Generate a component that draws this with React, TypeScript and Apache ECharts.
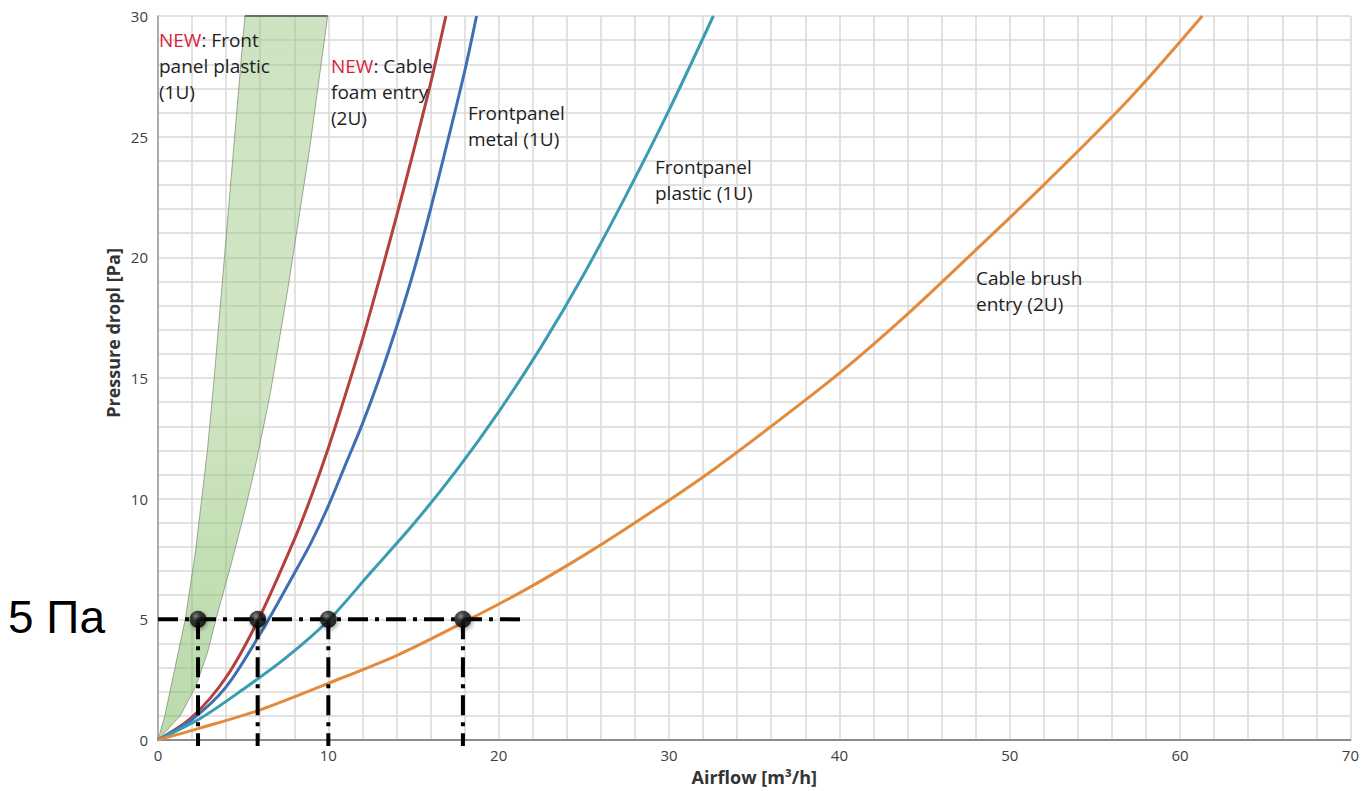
import React, { useEffect, useRef } from 'react';
import * as echarts from 'echarts';

// Curves: [airflow m3/h, pressure drop Pa]
const cableFoamEntry = [[0, 0], [2, 0.95], [4, 2.6], [5.9, 5], [8, 8.3], [9, 10.1], [10, 12.1], [11, 14.3], [12, 16.6], [13, 19.1], [14, 21.7], [15, 24.4], [16, 27.2], [16.9, 30]];
const frontpanelMetal = [[0, 0], [2, 0.85], [4, 2.2], [6, 4.4], [8, 6.9], [9, 8.2], [10, 9.7], [11, 11.4], [12, 13.1], [13, 15.0], [14, 17.1], [15, 19.4], [16, 22.0], [17, 24.8], [18, 27.7], [18.7, 30]];
const frontpanelPlastic = [[0, 0], [2.5, 0.9], [5, 2.1], [7.5, 3.4], [10, 4.95], [12.5, 6.95], [15, 8.95], [17.5, 11.15], [20, 13.6], [22.5, 16.3], [25, 19.3], [27.5, 22.6], [30, 26.1], [32.6, 30]];
const cableBrushEntry = [[0, 0], [2.5, 0.5], [6, 1.25], [10, 2.35], [14, 3.5], [18, 4.9], [21.5, 6.2], [25, 7.65], [28, 9.0], [32, 10.9], [36, 13.0], [40, 15.2], [44, 17.65], [48, 20.3], [52, 23.0], [57, 26.55], [61.3, 30]];

// NEW: Front panel plastic (1U) band: upper (left) and lower (right) boundaries
const bandUpperEdge = [[0, 0], [0.4, 1], [1.0, 3], [1.6, 5], [2.2, 7.8], [2.9, 12], [3.3, 15], [3.9, 20], [4.5, 25], [5.1, 30]];
const bandLowerEdge = [[0, 0], [1.3, 1], [2.2, 2.2], [2.9, 3.6], [3.4, 5], [4.3, 7.3], [5.1, 9.5], [5.7, 11.3], [6.2, 13], [6.6, 14.4], [7.6, 18.6], [8.9, 24.5], [9.96, 30]];

// 5 Pa reference
const refPressure = 5;
const refLineEnd = 21.5;
const refBelowAxis = -0.25;
const dropAirflows = [2.35, 5.85, 10.0, 17.9];

const xTickValues = [0, 10, 20, 30, 40, 50, 60, 70];
const yTickValues = [0, 5, 10, 15, 20, 25, 30];

const annotations = [
  { text: '{r|NEW}: Front\npanel plastic\n(1U)', left: 159, top: 27 },
  { text: '{r|NEW}: Cable\nfoam entry\n(2U)', left: 331, top: 53 },
  { text: 'Frontpanel\nmetal (1U)', left: 468, top: 100 },
  { text: 'Frontpanel\nplastic (1U)', left: 655, top: 154 },
  { text: 'Cable brush\nentry (2U)', left: 976, top: 265 },
];

const FONT = '"Open Sans", "DejaVu Sans", sans-serif';

export default function App() {
  const ref = useRef<HTMLDivElement>(null);

  useEffect(() => {
    document.body.style.margin = '0';
    if (!ref.current) return;
    const chart = echarts.init(ref.current, null, { renderer: 'svg' });

    const bandPolygon = [...bandUpperEdge, ...bandLowerEdge.slice().reverse()];
    const gridColor = '#d9d9d9';
    const dashType: any = [20, 7, 4, 7];

    const lineSeries = (name: string, data: number[][], color: string) => ({
      name,
      type: 'line',
      data,
      smooth: 0.3,
      showSymbol: false,
      symbol: 'none',
      lineStyle: { color, width: 3 },
      clip: true,
      z: 3,
    });

    const option: any = {
      animation: false,
      grid: { left: 158, right: 7, top: 16, bottom: 49 },
      xAxis: {
        type: 'value',
        min: xTickValues[0],
        max: xTickValues[xTickValues.length - 1],
        interval: 10,
        name: 'Airflow [m³/h]',
        nameLocation: 'middle',
        nameGap: 28,
        nameTextStyle: { fontWeight: 'bold', fontSize: 18, color: '#333', fontFamily: FONT },
        axisLine: { show: true, lineStyle: { color: '#8c8c8c', width: 2 } },
        axisTick: { show: false },
        axisLabel: { color: '#404040', fontSize: 15, fontFamily: FONT, margin: 7 },
        splitLine: { show: true, lineStyle: { color: gridColor, width: 1.5 } },
        minorTick: { show: false, splitNumber: 5 },
        minorSplitLine: { show: true, lineStyle: { color: gridColor, width: 1.5 } },
      },
      yAxis: {
        type: 'value',
        min: yTickValues[0],
        max: yTickValues[yTickValues.length - 1],
        interval: 5,
        axisLine: { show: true, lineStyle: { color: '#9a9a9a', width: 1.5 } },
        axisTick: { show: false },
        axisLabel: { color: '#404040', fontSize: 15, fontFamily: FONT, margin: 10 },
        splitLine: { show: true, lineStyle: { color: gridColor, width: 1.5 } },
        minorTick: { show: false, splitNumber: 5 },
        minorSplitLine: { show: true, lineStyle: { color: gridColor, width: 1.5 } },
      },
      series: [
        {
          name: 'NEW: Front panel plastic (1U)',
          type: 'custom',
          data: bandPolygon,
          encode: { x: 0, y: 1 },
          clip: true,
          z: 2,
          renderItem: (params: any, api: any) => {
            if (params.dataIndex !== 0) return null;
            const pts = bandPolygon.map((p) => api.coord(p));
            return {
              type: 'polygon',
              shape: { points: pts },
              style: {
                fill: {
                  type: 'linear', x: 0, y: 0, x2: 0, y2: 1,
                  colorStops: [
                    { offset: 0, color: 'rgba(151,197,125,0.48)' },
                    { offset: 0.5, color: 'rgba(151,197,125,0.45)' },
                    { offset: 0.75, color: 'rgba(135,190,105,0.5)' },
                    { offset: 1, color: 'rgba(125,185,95,0.52)' },
                  ],
                },
                stroke: 'rgba(110,125,100,0.8)',
                lineWidth: 0.8,
              },
            };
          },
        },
        {
          name: 'band top',
          type: 'line',
          data: [bandUpperEdge[bandUpperEdge.length - 1], bandLowerEdge[bandLowerEdge.length - 1]],
          showSymbol: false,
          symbol: 'none',
          lineStyle: { color: '#6e6e6e', width: 2 },
          z: 3,
        },
        lineSeries('NEW: Cable foam entry (2U)', cableFoamEntry, '#b5413f'),
        lineSeries('Frontpanel metal (1U)', frontpanelMetal, '#3f6fb3'),
        lineSeries('Frontpanel plastic (1U)', frontpanelPlastic, '#3a9cb0'),
        lineSeries('Cable brush entry (2U)', cableBrushEntry, '#e38a3c'),
        {
          name: '5 Pa',
          type: 'line',
          data: [[0, refPressure], [refLineEnd, refPressure]],
          showSymbol: false,
          symbol: 'none',
          clip: false,
          lineStyle: { color: '#000', width: 4, type: dashType, cap: 'butt' },
          z: 4,
        },
        ...dropAirflows.map((x, i) => ({
          name: 'drop' + i,
          type: 'line',
          data: [[x, refPressure], [x, refBelowAxis]],
          showSymbol: false,
          symbol: 'none',
          clip: false,
          lineStyle: { color: '#000', width: 4, type: dashType, cap: 'butt' },
          z: 4,
        })),
        {
          name: 'points',
          type: 'scatter',
          data: dropAirflows.map((x) => [x, refPressure]),
          symbolSize: 17,
          itemStyle: {
            color: {
              type: 'radial', x: 0.38, y: 0.32, r: 0.7,
              colorStops: [
                { offset: 0, color: '#7a7a7a' },
                { offset: 0.35, color: '#1e1e1e' },
                { offset: 1, color: '#000' },
              ],
            },
            shadowBlur: 4,
            shadowColor: 'rgba(0,0,0,0.45)',
            shadowOffsetX: 1,
            shadowOffsetY: 2,
          },
          z: 5,
        },
      ],
      graphic: [
        {
          type: 'text',
          left: 8,
          top: 594,
          style: { text: '5 Па', fontSize: 46, fontFamily: '"Liberation Sans", Arial, sans-serif', fill: '#000' },
        },
        {
          type: 'text',
          x: 113,
          y: 333,
          rotation: Math.PI / 2,
          style: {
            text: 'Pressure dropl [Pa]',
            fontSize: 18,
            fontWeight: 'bold',
            fontFamily: FONT,
            fill: '#333',
            align: 'center',
            verticalAlign: 'middle',
          },
        },
        ...annotations.map((a) => ({
          type: 'text',
          left: a.left,
          top: a.top,
          z: 10,
          style: {
            text: a.text,
            fontSize: 19,
            fontFamily: FONT,
            fill: '#1e1e1e',
            lineHeight: 26,
            rich: {
              r: { fill: '#dc1e3c', fontSize: 19, fontFamily: FONT, lineHeight: 26 },
            },
          },
        })),
      ],
    };

    chart.setOption(option);
    return () => chart.dispose();
  }, []);

  return <div ref={ref} style={{ position: 'absolute', left: 0, top: 0, width: 1362, height: 791 }} />;
}
